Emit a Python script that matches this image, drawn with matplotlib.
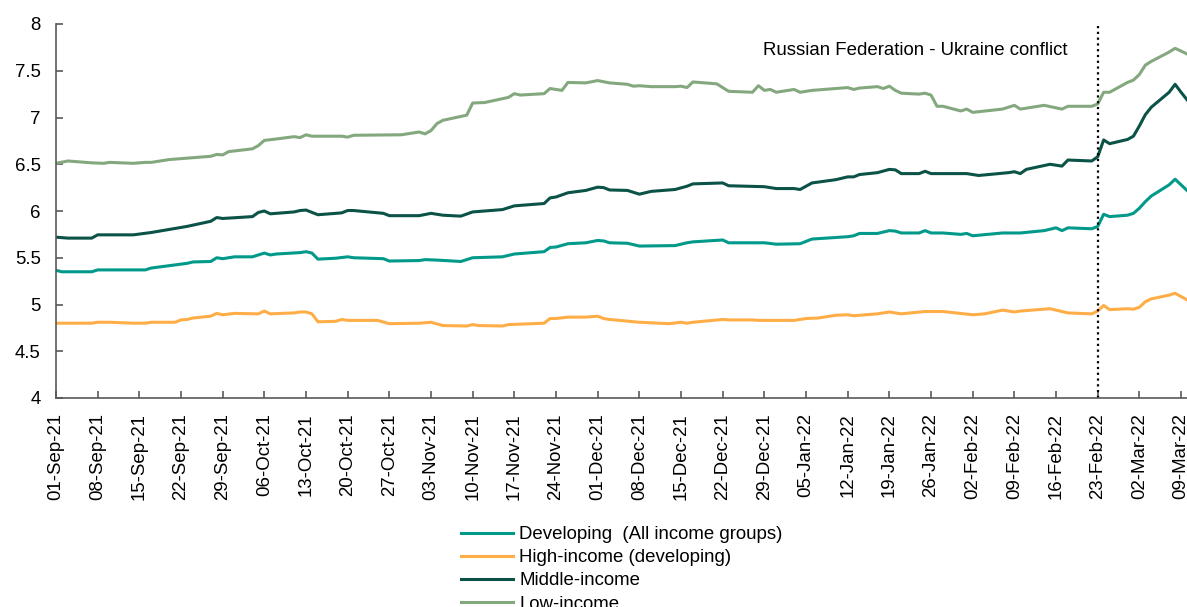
import matplotlib
matplotlib.use("Agg")
import matplotlib.pyplot as plt
import matplotlib.dates as mdates
import pandas as pd

plt.rcParams['font.family'] = ['Liberation Sans', 'DejaVu Sans']

# Developing (All income groups)
dev_dates = ['2021-09-01', '2021-09-02', '2021-09-07', '2021-09-08', '2021-09-16', '2021-09-17',
             '2021-09-23', '2021-09-24', '2021-09-27', '2021-09-28', '2021-09-29', '2021-10-01',
             '2021-10-04', '2021-10-06', '2021-10-07', '2021-10-08', '2021-10-12', '2021-10-13',
             '2021-10-14', '2021-10-15', '2021-10-18', '2021-10-20', '2021-10-21', '2021-10-26',
             '2021-10-27', '2021-11-01', '2021-11-02', '2021-11-04', '2021-11-08', '2021-11-10',
             '2021-11-15', '2021-11-17', '2021-11-19', '2021-11-22', '2021-11-23', '2021-11-24',
             '2021-11-26', '2021-11-29', '2021-12-01', '2021-12-02', '2021-12-03', '2021-12-06',
             '2021-12-08', '2021-12-14', '2021-12-16', '2021-12-17', '2021-12-22', '2021-12-23',
             '2021-12-29', '2021-12-31', '2022-01-04', '2022-01-06', '2022-01-12', '2022-01-13',
             '2022-01-14', '2022-01-17', '2022-01-19', '2022-01-20', '2022-01-21', '2022-01-24',
             '2022-01-25', '2022-01-26', '2022-01-28', '2022-01-31', '2022-02-01', '2022-02-02',
             '2022-02-07', '2022-02-10', '2022-02-14', '2022-02-16', '2022-02-17', '2022-02-18',
             '2022-02-22', '2022-02-23', '2022-02-24', '2022-02-25', '2022-02-28', '2022-03-01',
             '2022-03-02', '2022-03-03', '2022-03-04', '2022-03-07', '2022-03-08', '2022-03-09',
             '2022-03-10']
dev_vals = [5.365, 5.35, 5.35, 5.37, 5.37, 5.39,
            5.44, 5.455, 5.46, 5.50, 5.49, 5.51,
            5.51, 5.55, 5.53, 5.54, 5.555, 5.565,
            5.55, 5.485, 5.495, 5.51, 5.50, 5.49,
            5.465, 5.47, 5.48, 5.475, 5.46, 5.50,
            5.51, 5.54, 5.55, 5.565, 5.61, 5.615,
            5.65, 5.66, 5.685, 5.68, 5.66, 5.655,
            5.625, 5.63, 5.66, 5.67, 5.69, 5.66,
            5.66, 5.645, 5.65, 5.70, 5.725, 5.735,
            5.76, 5.76, 5.79, 5.785, 5.765, 5.765,
            5.79, 5.765, 5.765, 5.75, 5.76, 5.735,
            5.765, 5.765, 5.79, 5.82, 5.79, 5.82,
            5.81, 5.835, 5.965, 5.94, 5.955, 5.975,
            6.03, 6.10, 6.16, 6.28, 6.34, 6.28,
            6.22]

# High-income (developing)
hi_dates = ['2021-09-01', '2021-09-07', '2021-09-08', '2021-09-10', '2021-09-14', '2021-09-16',
            '2021-09-17', '2021-09-21', '2021-09-22', '2021-09-23', '2021-09-24', '2021-09-27',
            '2021-09-28', '2021-09-29', '2021-10-01', '2021-10-05', '2021-10-06', '2021-10-07',
            '2021-10-11', '2021-10-12', '2021-10-13', '2021-10-14', '2021-10-15', '2021-10-18',
            '2021-10-19', '2021-10-20', '2021-10-25', '2021-10-27', '2021-11-01', '2021-11-03',
            '2021-11-05', '2021-11-09', '2021-11-10', '2021-11-11', '2021-11-15', '2021-11-16',
            '2021-11-22', '2021-11-23', '2021-11-24', '2021-11-26', '2021-11-29', '2021-12-01',
            '2021-12-02', '2021-12-03', '2021-12-08', '2021-12-13', '2021-12-15', '2021-12-16',
            '2021-12-17', '2021-12-22', '2021-12-23', '2021-12-27', '2021-12-28', '2022-01-03',
            '2022-01-05', '2022-01-07', '2022-01-10', '2022-01-12', '2022-01-13', '2022-01-17',
            '2022-01-19', '2022-01-20', '2022-01-21', '2022-01-25', '2022-01-28', '2022-02-02',
            '2022-02-04', '2022-02-07', '2022-02-09', '2022-02-10', '2022-02-15', '2022-02-18',
            '2022-02-22', '2022-02-23', '2022-02-24', '2022-02-25', '2022-02-28', '2022-03-01',
            '2022-03-02', '2022-03-03', '2022-03-04', '2022-03-07', '2022-03-08', '2022-03-09',
            '2022-03-10']
hi_vals = [4.80, 4.80, 4.81, 4.81, 4.80, 4.80,
           4.81, 4.81, 4.835, 4.84, 4.855, 4.875,
           4.905, 4.89, 4.905, 4.90, 4.93, 4.90,
           4.91, 4.92, 4.92, 4.90, 4.815, 4.82,
           4.84, 4.83, 4.83, 4.795, 4.80, 4.81,
           4.775, 4.77, 4.785, 4.775, 4.77, 4.785,
           4.80, 4.85, 4.85, 4.865, 4.865, 4.875,
           4.85, 4.84, 4.81, 4.795, 4.81, 4.80,
           4.81, 4.84, 4.835, 4.835, 4.83, 4.83,
           4.85, 4.855, 4.885, 4.89, 4.88, 4.90,
           4.92, 4.91, 4.90, 4.925, 4.925, 4.89,
           4.90, 4.94, 4.92, 4.93, 4.955, 4.91,
           4.90, 4.93, 4.99, 4.945, 4.955, 4.95,
           4.97, 5.03, 5.06, 5.10, 5.12, 5.085,
           5.05]

# Middle-income
mid_dates = ['2021-09-01', '2021-09-03', '2021-09-07', '2021-09-08', '2021-09-14', '2021-09-17',
             '2021-09-23', '2021-09-27', '2021-09-28', '2021-09-29', '2021-10-04', '2021-10-05',
             '2021-10-06', '2021-10-07', '2021-10-11', '2021-10-12', '2021-10-13', '2021-10-15',
             '2021-10-18', '2021-10-19', '2021-10-20', '2021-10-21', '2021-10-26', '2021-10-27',
             '2021-11-01', '2021-11-03', '2021-11-05', '2021-11-08', '2021-11-10', '2021-11-15',
             '2021-11-17', '2021-11-22', '2021-11-23', '2021-11-24', '2021-11-26', '2021-11-29',
             '2021-12-01', '2021-12-02', '2021-12-03', '2021-12-06', '2021-12-08', '2021-12-10',
             '2021-12-14', '2021-12-16', '2021-12-17', '2021-12-22', '2021-12-23', '2021-12-29',
             '2021-12-31', '2022-01-03', '2022-01-04', '2022-01-06', '2022-01-10', '2022-01-12',
             '2022-01-13', '2022-01-14', '2022-01-17', '2022-01-19', '2022-01-20', '2022-01-21',
             '2022-01-24', '2022-01-25', '2022-01-26', '2022-02-01', '2022-02-03', '2022-02-08',
             '2022-02-09', '2022-02-10', '2022-02-11', '2022-02-15', '2022-02-17', '2022-02-18',
             '2022-02-22', '2022-02-23', '2022-02-24', '2022-02-25', '2022-02-28', '2022-03-01',
             '2022-03-02', '2022-03-03', '2022-03-04', '2022-03-07', '2022-03-08', '2022-03-09',
             '2022-03-10']
mid_vals = [5.72, 5.71, 5.71, 5.745, 5.745, 5.77,
            5.835, 5.89, 5.93, 5.92, 5.94, 5.985,
            6.00, 5.97, 5.99, 6.005, 6.01, 5.96,
            5.975, 5.98, 6.005, 6.005, 5.975, 5.95,
            5.95, 5.975, 5.955, 5.945, 5.99, 6.015,
            6.055, 6.08, 6.14, 6.15, 6.195, 6.22,
            6.255, 6.25, 6.225, 6.22, 6.18, 6.21,
            6.23, 6.265, 6.29, 6.30, 6.27, 6.26,
            6.24, 6.24, 6.23, 6.30, 6.335, 6.365,
            6.365, 6.39, 6.41, 6.445, 6.44, 6.40,
            6.40, 6.425, 6.40, 6.40, 6.38, 6.41,
            6.42, 6.40, 6.445, 6.50, 6.48, 6.545,
            6.535, 6.58, 6.76, 6.72, 6.765, 6.80,
            6.91, 7.03, 7.11, 7.27, 7.355, 7.27,
            7.19]

# Low-income
lo_dates = ['2021-09-01', '2021-09-03', '2021-09-07', '2021-09-09', '2021-09-10', '2021-09-14',
            '2021-09-16', '2021-09-17', '2021-09-20', '2021-09-23', '2021-09-27', '2021-09-28',
            '2021-09-29', '2021-09-30', '2021-10-04', '2021-10-05', '2021-10-06', '2021-10-08',
            '2021-10-11', '2021-10-12', '2021-10-13', '2021-10-14', '2021-10-19', '2021-10-20',
            '2021-10-21', '2021-10-29', '2021-11-01', '2021-11-02', '2021-11-03', '2021-11-04',
            '2021-11-05', '2021-11-09', '2021-11-10', '2021-11-12', '2021-11-16', '2021-11-17',
            '2021-11-18', '2021-11-22', '2021-11-23', '2021-11-25', '2021-11-26', '2021-11-29',
            '2021-12-01', '2021-12-03', '2021-12-06', '2021-12-07', '2021-12-08', '2021-12-10',
            '2021-12-14', '2021-12-15', '2021-12-16', '2021-12-17', '2021-12-21', '2021-12-23',
            '2021-12-27', '2021-12-28', '2021-12-29', '2021-12-30', '2021-12-31', '2022-01-03',
            '2022-01-04', '2022-01-06', '2022-01-10', '2022-01-12', '2022-01-13', '2022-01-14',
            '2022-01-17', '2022-01-18', '2022-01-19', '2022-01-20', '2022-01-21', '2022-01-24',
            '2022-01-25', '2022-01-26', '2022-01-27', '2022-01-28', '2022-01-31', '2022-02-01',
            '2022-02-02', '2022-02-07', '2022-02-09', '2022-02-10', '2022-02-14', '2022-02-17',
            '2022-02-18', '2022-02-22', '2022-02-23', '2022-02-24', '2022-02-25', '2022-02-28',
            '2022-03-01', '2022-03-02', '2022-03-03', '2022-03-04', '2022-03-07', '2022-03-08',
            '2022-03-09', '2022-03-10']
lo_vals = [6.51, 6.535, 6.515, 6.51, 6.52, 6.51,
           6.52, 6.52, 6.55, 6.565, 6.585, 6.605,
           6.60, 6.635, 6.665, 6.70, 6.755, 6.77,
           6.795, 6.785, 6.815, 6.80, 6.80, 6.79,
           6.81, 6.815, 6.845, 6.825, 6.86, 6.935,
           6.97, 7.025, 7.155, 7.16, 7.215, 7.255,
           7.24, 7.255, 7.31, 7.29, 7.375, 7.37,
           7.395, 7.37, 7.355, 7.335, 7.34, 7.33,
           7.33, 7.335, 7.32, 7.38, 7.36, 7.28,
           7.27, 7.34, 7.29, 7.30, 7.27, 7.30,
           7.27, 7.29, 7.31, 7.32, 7.30, 7.315,
           7.33, 7.31, 7.335, 7.29, 7.26, 7.25,
           7.26, 7.24, 7.12, 7.12, 7.07, 7.09,
           7.055, 7.09, 7.13, 7.09, 7.13, 7.09,
           7.12, 7.12, 7.145, 7.27, 7.27, 7.375,
           7.40, 7.46, 7.56, 7.60, 7.70, 7.74,
           7.71, 7.68]

series = [
    ('Developing  (All income groups)', dev_dates, dev_vals, '#00998A'),
    ('High-income (developing)', hi_dates, hi_vals, '#FFAE47'),
    ('Middle-income', mid_dates, mid_vals, '#0B5247'),
    ('Low-income', lo_dates, lo_vals, '#84A87E'),
]

conflict_date = pd.Timestamp('2022-02-23')

fig = plt.figure(figsize=(11.87, 6.07), dpi=100)
ax = fig.add_axes([56 / 1187, 1 - 398 / 607, 1 - 56 / 1187, (398 - 24) / 607])

for name, d, v, c in series:
    ax.plot(pd.to_datetime(d), v, color=c, lw=2.2, label=name, solid_joinstyle='round')

ax.axvline(conflict_date, color='black', lw=1.6, linestyle=(0, (1, 1.6)))
ax.text(pd.Timestamp('2022-02-18'), 7.72, 'Russian Federation - Ukraine conflict',
        ha='right', va='center', fontsize=13.4)

ax.set_xlim(pd.Timestamp('2021-09-01'), pd.Timestamp('2022-03-10'))
ax.set_ylim(4, 8)
ax.set_yticks([4, 4.5, 5, 5.5, 6, 6.5, 7, 7.5, 8])
ax.set_yticklabels(['4', '4.5', '5', '5.5', '6', '6.5', '7', '7.5', '8'])
ax.set_xticks(pd.date_range('2021-09-01', '2022-03-10', freq='7D'))
ax.xaxis.set_major_formatter(mdates.DateFormatter('%d-%b-%y'))
plt.setp(ax.get_xticklabels(), rotation=90)

for s in ['top', 'right']:
    ax.spines[s].set_visible(False)
for s in ['left', 'bottom']:
    ax.spines[s].set_color('#595959')
    ax.spines[s].set_linewidth(1.2)
ax.tick_params(axis='both', direction='in', length=5, width=1.2, color='#595959',
               labelsize=13.4, labelcolor='black')
ax.tick_params(axis='y', pad=11)
ax.tick_params(axis='x', pad=11)

fig.legend(loc='upper left', bbox_to_anchor=(461 / 1187, 1 - 526 / 607), frameon=False,
           fontsize=13.4, handlelength=2.8, handletextpad=0.33, labelspacing=0.33,
           borderpad=0, borderaxespad=0)

fig.savefig('out.png', dpi=100)
